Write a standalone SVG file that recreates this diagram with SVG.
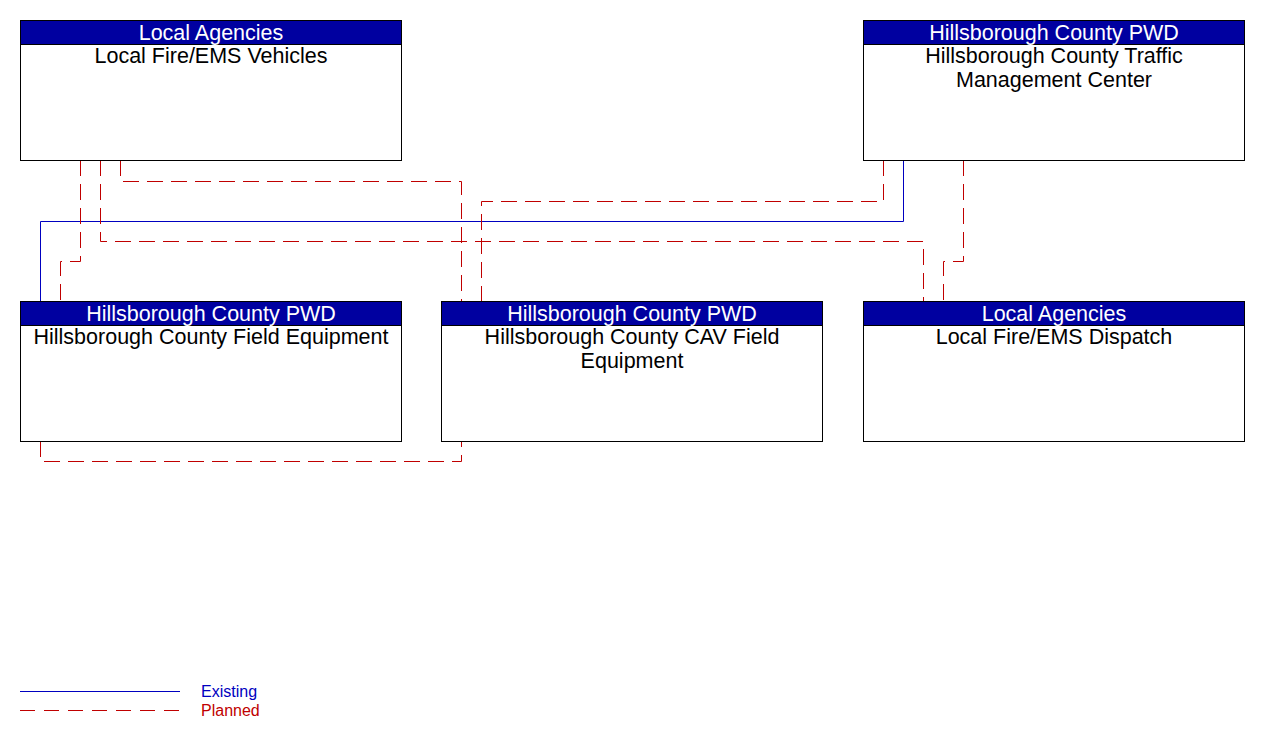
<svg xmlns="http://www.w3.org/2000/svg" width="1261" height="741" viewBox="0 0 1261 741">
<style>
.box{fill:#fff;stroke:#000;stroke-width:1}
.hdr{fill:#0000A0;stroke:#000;stroke-width:1}
.ht{font-family:"Liberation Sans",Arial,sans-serif;font-size:21.5px;fill:#fff;text-anchor:middle}
.bt{font-family:"Liberation Sans",Arial,sans-serif;font-size:21.5px;fill:#000;text-anchor:middle}
.ex{fill:none;stroke:#0000C0;stroke-width:1}
.pl{fill:none;stroke:#C00000;stroke-width:1;stroke-dasharray:16 8}
.lg{font-family:"Liberation Sans",Arial,sans-serif;font-size:16px}
</style>
<rect width="1261" height="741" fill="#fff"/>
<g id="connectors">
<polyline class="ex" points="903.5,160 903.5,221.5 40.5,221.5 40.5,301"/>
<polyline class="pl" points="80.5,160 80.5,261.5 60.5,261.5 60.5,301"/>
<polyline class="pl" points="100.5,160 100.5,241.5 923.5,241.5 923.5,301"/>
<polyline class="pl" points="120.5,160 120.5,181.5 461.5,181.5 461.5,301"/>
<polyline class="pl" points="883.5,160 883.5,201.5 481.5,201.5 481.5,301"/>
<polyline class="pl" points="963.5,160 963.5,261.5 943.5,261.5 943.5,301"/>
<polyline class="pl" points="40.5,441 40.5,461.5 461.5,461.5 461.5,441"/>
</g>
<g id="node-vehicles">
<rect class="box" x="20.5" y="20.5" width="381" height="140"/>
<rect class="hdr" x="20.5" y="20.5" width="381" height="24"/>
<text class="ht" x="211" y="40">Local Agencies</text>
<text class="bt" x="211" y="63">Local Fire/EMS Vehicles</text>
</g>
<g id="node-tmc">
<rect class="box" x="863.5" y="20.5" width="381" height="140"/>
<rect class="hdr" x="863.5" y="20.5" width="381" height="24"/>
<text class="ht" x="1054" y="40">Hillsborough County PWD</text>
<text class="bt" x="1054" y="63">Hillsborough County Traffic</text>
<text class="bt" x="1054" y="87">Management Center</text>
</g>
<g id="node-field">
<rect class="box" x="20.5" y="301.5" width="381" height="140"/>
<rect class="hdr" x="20.5" y="301.5" width="381" height="24"/>
<text class="ht" x="211" y="321">Hillsborough County PWD</text>
<text class="bt" x="211" y="344">Hillsborough County Field Equipment</text>
</g>
<g id="node-cav">
<rect class="box" x="441.5" y="301.5" width="381" height="140"/>
<rect class="hdr" x="441.5" y="301.5" width="381" height="24"/>
<text class="ht" x="632" y="321">Hillsborough County PWD</text>
<text class="bt" x="632" y="344">Hillsborough County CAV Field</text>
<text class="bt" x="632" y="368">Equipment</text>
</g>
<g id="node-dispatch">
<rect class="box" x="863.5" y="301.5" width="381" height="140"/>
<rect class="hdr" x="863.5" y="301.5" width="381" height="24"/>
<text class="ht" x="1054" y="321">Local Agencies</text>
<text class="bt" x="1054" y="344">Local Fire/EMS Dispatch</text>
</g>
<g id="legend">
<line class="ex" x1="20" y1="691.5" x2="180" y2="691.5"/>
<line x1="20" y1="710.5" x2="180" y2="710.5" stroke="#C00000" stroke-width="1" stroke-dasharray="15 9"/>
<text class="lg" x="201" y="697" fill="#0000C0">Existing</text>
<text class="lg" x="201" y="716" fill="#C00000">Planned</text>
</g>
</svg>
